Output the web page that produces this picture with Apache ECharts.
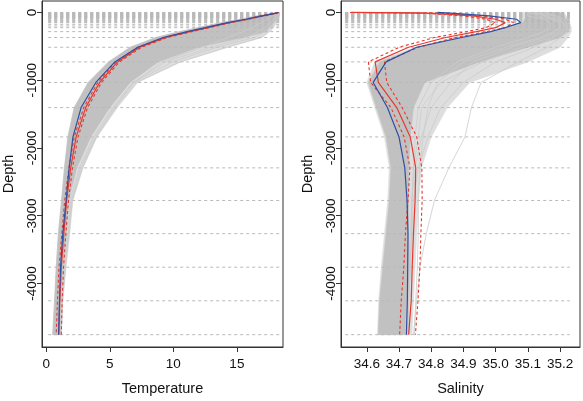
<!DOCTYPE html>
<html><head><meta charset="utf-8">
<script src="https://cdn.jsdelivr.net/npm/echarts@6/dist/echarts.min.js"></script>
<style>html,body{margin:0;padding:0;background:#fff}#c{width:583px;height:401px}</style>
</head><body><div id="c"></div>
<script>
// depth levels (m) of the profile vertices
const depthLevels = [0,10,50,100,150,225,283,370,514,730,1033,1404,1837,2294,2775,3265,3760,4256,4756];
// depth levels of the horizontal dashed reference lines
const dashDepths = [0,5,10,15,20,25,30,35,40,45,50,55,60,65,70,75,80,90,100,110,120,130,140,150,175,200,225,283,370,514,730,1033,1404,1837,2294,2775,3265,3760,4256,4756];
const tempDashSpan = [0.15, 18.4];
const salDashSpan = [34.533, 35.23];

// Temperature
const tempMean  = [18.26,18.1,17.0,15.7,14.3,12.5,11.1,9.2,7.2,5.4,3.9,2.74,2.1,1.8,1.56,1.3,1.12,1.04,0.97];
const tempRed   = [18.26,18.1,17.0,15.8,14.4,12.7,11.3,9.4,7.35,5.6,4.2,3.1,2.35,1.92,1.6,1.38,1.18,1.06,0.98];
const tempRedLo = [18.2,18.0,16.85,15.65,14.25,12.55,11.15,9.25,7.2,5.45,4.05,2.95,2.2,1.78,1.45,1.22,1.0,0.88,0.78];
const tempRedHi = [18.3,18.2,17.15,15.95,14.55,12.85,11.45,9.55,7.5,5.75,4.35,3.25,2.5,2.06,1.75,1.54,1.36,1.25,1.18];
const tempBandMin = [18.2,18.0,16.6,15.2,13.8,11.9,10.5,8.6,6.6,4.9,3.3,2.2,1.7,1.43,1.2,0.95,0.78,0.65,0.5];
const tempBandMax = [18.35,18.35,18.3,18.2,17.9,17.5,17.4,15.5,12.0,8.8,6.6,5.0,3.5,2.4,1.75,1.55,1.3,1.15,1.1];
const tempOuterMax = [18.35,18.35,18.3,18.25,18.1,17.9,17.6,17.0,14.3,10.6,7.2,5.6,4.0,2.9,2.1,1.85,1.56,1.3,1.2];
const tempFringe1 = [18.3,18.3,18.3,18.2,18.05,17.8,17.5,16.9,14.2,10.5,7.1,5.5,3.95,2.85,2.05,1.8,1.5,1.28,1.18];
const tempFringe2 = [18.3,18.3,18.2,18.1,17.9,17.6,17.2,16.4,13.4,9.9,6.9,5.3,3.8,2.7,1.95,1.7,1.42,1.22,1.12];
const tempFringe3 = [18.2,18.2,18.1,17.9,17.6,17.2,16.7,15.8,12.9,9.4,6.8,5.2,3.7,2.6,1.85,1.6,1.35,1.18,1.08];
const tempFringe4 = [18.1,18.0,17.8,17.4,16.9,16.2,15.5,14.3,12.3,9.1,6.9,5.4,3.9,2.8,2.0,1.75,1.5,1.28,1.15];

// Salinity
const salMean  = [34.82,34.86,34.98,35.065,35.078,35.03,34.985,34.895,34.755,34.66,34.62,34.664,34.70,34.718,34.725,34.728,34.727,34.726,34.723];
const salRed   = [34.552,34.80,34.93,35.0,35.03,35.0,34.94,34.845,34.73,34.626,34.636,34.693,34.735,34.752,34.75,34.745,34.741,34.738,34.73];
const salRedLo = [34.548,34.77,34.9,34.97,35.0,34.97,34.91,34.81,34.70,34.605,34.612,34.675,34.716,34.734,34.728,34.72,34.715,34.707,34.702];
const salRedHi = [34.556,34.83,34.96,35.03,35.055,35.03,34.97,34.875,34.76,34.655,34.662,34.71,34.755,34.771,34.772,34.768,34.765,34.759,34.751];
const salBandMin = [35.1,35.1,35.1,35.09,35.085,35.04,35.0,34.88,34.76,34.64,34.605,34.63,34.66,34.675,34.67,34.66,34.65,34.64,34.636];
const salBandMax = [35.2,35.2,35.21,35.22,35.225,35.23,35.225,35.2,35.1,34.95,34.78,34.745,34.735,34.73,34.73,34.73,34.733,34.728,34.723];
const salOuterMin = [35.08,35.08,35.08,35.08,35.08,35.035,34.99,34.87,34.75,34.625,34.6,34.625,34.655,34.67,34.665,34.655,34.645,34.637,34.633];
const salOuterMax = [35.21,35.21,35.22,35.225,35.23,35.235,35.235,35.225,35.2,35.1,34.92,34.85,34.8,34.77,34.76,34.755,34.75,34.745,34.74];
const salFringe1 = [35.15,35.16,35.19,35.21,35.22,35.225,35.22,35.2,35.16,35.07,34.955,34.925,34.905,34.855,34.81,34.785,34.765,34.755,34.745];
const salFringe2 = [35.1,35.12,35.16,35.19,35.21,35.22,35.21,35.18,35.12,35.0,34.9,34.83,34.79,34.76,34.745,34.74,34.735,34.73,34.725];
const salFringe3 = [35.1,35.11,35.13,35.17,35.2,35.2,35.19,35.15,35.05,34.93,34.86,34.8,34.77,34.75,34.74,34.735,34.73,34.725,34.72];
const salFringe4 = [35.12,35.14,35.18,35.2,35.21,35.21,35.2,35.17,35.08,34.96,34.83,34.77,34.76,34.745,34.74,34.738,34.735,34.73,34.728];
const salFringe5 = [35.1,35.1,35.1,35.15,35.17,35.17,35.15,35.1,35.0,34.88,34.8,34.76,34.75,34.745,34.74,34.74,34.735,34.73,34.73];
const salFringe6 = [35.12,35.12,35.15,35.18,35.2,35.2,35.18,35.14,35.03,34.9,34.82,34.79,34.775,34.765,34.76,34.76,34.757,34.752,34.748];

// Axis ticks
const depthTicks = [0,-1000,-2000,-3000,-4000];
const tempTicks = [0,5,10,15];
const salTicks = [34.6,34.7,34.8,34.9,35.0,35.1,35.2];

const FONT = '"Liberation Sans", Arial, Helvetica, sans-serif';
const GREY_BAND = '#c1c1c1', GREY_OUTER = '#dedede', GREY_LINE = '#cbcbcb';
const BLUE = '#2f4fa3', RED = '#e5392f';

function prof(xs){ return depthLevels.map((d,i)=>[xs[i], -d]); }

function band(gi, mins, maxs, color, z){
  return { type:'custom', xAxisIndex:gi, yAxisIndex:gi, z:z, silent:true, clip:true,
    data:[[mins[mins.length-1], -depthLevels[depthLevels.length-1]]],
    renderItem:(params, api)=>{
      const pts=[];
      for(let i=0;i<depthLevels.length;i++) pts.push(api.coord([mins[i], -depthLevels[i]]));
      for(let i=depthLevels.length-1;i>=0;i--) pts.push(api.coord([maxs[i], -depthLevels[i]]));
      return {type:'polygon', shape:{points:pts}, style:{fill:color, stroke:color, lineWidth:0.6}};
    }};
}
function dashes(gi, span){
  return { type:'custom', xAxisIndex:gi, yAxisIndex:gi, z:3, silent:true, clip:true,
    data: dashDepths.map(d=>[span[0], -d]),
    renderItem:(params, api)=>{
      const y = api.value(1);
      const p1 = api.coord([span[0], y]), p2 = api.coord([span[1], y]);
      return {type:'line', shape:{x1:p1[0],y1:p1[1],x2:p2[0],y2:p2[1]},
        style:{stroke:'#b9b9b9', lineWidth:1, lineDash:[3,3]}};
    }};
}
function line(gi, xs, color, width, dash, z){
  return { type:'line', xAxisIndex:gi, yAxisIndex:gi, data:prof(xs), showSymbol:false, symbol:'none',
    z:z, silent:true, clip:true,
    lineStyle:{color:color, width:width, type: dash ? [3,2.5] : 'solid'} };
}

function xAxisCfg(gi, min, max, ticks, name, fmt){
  return { type:'value', gridIndex:gi, min:min, max:max,
    axisLine:{show:true, onZero:false, lineStyle:{color:'#333', width:1}},
    axisTick:{show:true, length:5, customValues:ticks, lineStyle:{color:'#333'}},
    axisLabel:{customValues:ticks, margin:10, fontSize:13.5, color:'#111', fontFamily:FONT, formatter:fmt},
    splitLine:{show:false},
    name:name, nameLocation:'middle', nameGap:34,
    nameTextStyle:{fontSize:14.5, color:'#111', fontFamily:FONT} };
}
function yAxisCfg(gi, name){
  return { type:'value', gridIndex:gi, min:-4938, max:169,
    axisLine:{show:true, onZero:false, lineStyle:{color:'#333', width:1}},
    axisTick:{show:true, length:5, customValues:depthTicks, lineStyle:{color:'#333'}},
    axisLabel:{customValues:depthTicks, rotate:90, margin:3, fontSize:13.5, color:'#111', fontFamily:FONT,
      formatter:v=>String(v)},
    splitLine:{show:false},
    name:name, nameLocation:'middle', nameRotate:90, nameGap:26,
    nameTextStyle:{fontSize:14.5, color:'#111', fontFamily:FONT} };
}

const chart = echarts.init(document.getElementById('c'), null, {renderer:'canvas'});
chart.setOption({
  animation:false,
  backgroundColor:'#fff',
  grid:[
    {left:41, top:1, width:242, height:354, show:true, borderColor:'#333', borderWidth:1, backgroundColor:'transparent'},
    {left:341, top:1, width:239, height:354, show:true, borderColor:'#333', borderWidth:1, backgroundColor:'transparent'}
  ],
  xAxis:[
    xAxisCfg(0, -0.337, 18.63, tempTicks, 'Temperature', v=>String(v)),
    xAxisCfg(1, 34.52, 35.262, salTicks, 'Salinity', v=>v.toFixed(1))
  ],
  yAxis:[ yAxisCfg(0,'Depth'), yAxisCfg(1,'Depth') ],
  series:[
    band(0, tempBandMin, tempOuterMax, GREY_OUTER, 1),
    band(0, tempBandMin, tempBandMax, GREY_BAND, 2),
    dashes(0, tempDashSpan),
    line(0, tempFringe1, GREY_LINE, 0.8, false, 4),
    line(0, tempFringe2, GREY_LINE, 0.8, false, 4),
    line(0, tempFringe3, GREY_LINE, 0.8, false, 4),
    line(0, tempFringe4, GREY_LINE, 0.8, false, 4),
    line(0, tempRedLo, RED, 1.1, true, 5),
    line(0, tempRedHi, RED, 1.1, true, 5),
    line(0, tempRed, RED, 1.2, false, 6),
    line(0, tempMean, BLUE, 1.2, false, 7),

    band(1, salOuterMin, salOuterMax, GREY_OUTER, 1),
    band(1, salBandMin, salBandMax, GREY_BAND, 2),
    dashes(1, salDashSpan),
    line(1, salFringe1, GREY_LINE, 0.8, false, 4),
    line(1, salFringe2, GREY_LINE, 0.8, false, 4),
    line(1, salFringe3, GREY_LINE, 0.8, false, 4),
    line(1, salFringe4, GREY_LINE, 0.8, false, 4),
    line(1, salFringe5, GREY_LINE, 0.8, false, 4),
    line(1, salFringe6, GREY_LINE, 0.8, false, 4),
    line(1, salRedLo, RED, 1.1, true, 5),
    line(1, salRedHi, RED, 1.1, true, 5),
    line(1, salRed, RED, 1.2, false, 6),
    line(1, salMean, BLUE, 1.2, false, 7)
  ]
});
</script></body></html>
